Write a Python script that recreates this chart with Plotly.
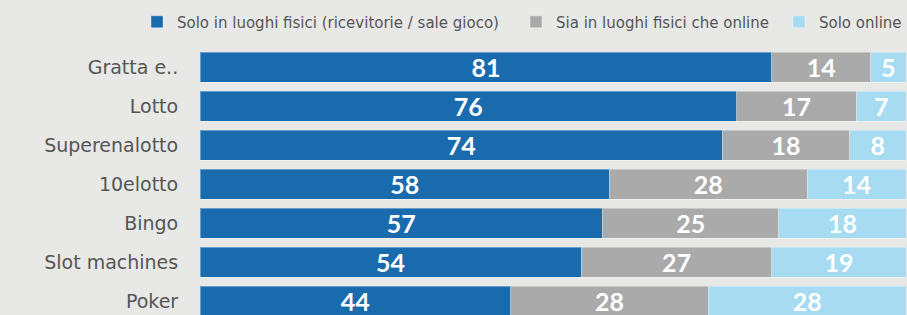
import plotly.graph_objects as go

categories = ["Gratta e..", "Lotto", "Superenalotto", "10elotto", "Bingo", "Slot machines", "Poker"]
solo_fisici = [81, 76, 74, 58, 57, 54, 44]
entrambi = [14, 17, 18, 28, 25, 27, 28]
solo_online = [5, 7, 8, 14, 18, 19, 28]
series_names = ["Solo in luoghi fisici (ricevitorie / sale gioco)",
                "Sia in luoghi fisici che online",
                "Solo online"]
colors = ["#1A6BAE", "#AAAAAA", "#A6DBF2"]
legend_ids = ["legend", "legend2", "legend3"]
legend_text_x = [177, 556, 819]  # pixel where each legend label starts

fig = go.Figure()
for name, vals, col, lg in zip(series_names, [solo_fisici, entrambi, solo_online], colors, legend_ids):
    fig.add_trace(go.Bar(
        name=name, y=categories, x=vals, orientation="h", legend=lg,
        marker=dict(color=col, line=dict(color="rgba(255,255,255,0.35)", width=1)),
        text=[str(v) for v in vals], textposition="inside", textangle=0,
        insidetextanchor="middle", constraintext="none",
        textfont=dict(family="Lato", size=25, color="white", weight="bold"),
        width=0.77, cliponaxis=True,
    ))

W, H = 907, 315
legend_style = dict(orientation="h", xref="container", yref="container",
                    xanchor="left", yanchor="middle", y=1 - 22 / H,
                    font=dict(family="DejaVu Sans", size=15, color="#555555"),
                    bgcolor="rgba(0,0,0,0)", borderwidth=0)
layout_legends = {}
for lg, tx in zip(legend_ids, legend_text_x):
    layout_legends[lg] = dict(legend_style, x=(tx - 40) / W)

fig.update_layout(
    barmode="stack",
    width=W, height=H,
    margin=dict(l=200, r=1, t=47.5, b=0, autoexpand=False),
    paper_bgcolor="#E8E9E7", plot_bgcolor="#E8E9E7",
    font=dict(family="DejaVu Sans", color="#555555"),
    xaxis=dict(range=[0, 100], visible=False, fixedrange=True),
    yaxis=dict(range=[6.36, -0.5], showgrid=False, zeroline=False, showline=False,
               ticks="outside", ticklen=0, ticklabelstandoff=17, fixedrange=True,
               tickfont=dict(family="DejaVu Sans", size=19, color="#555555")),
    showlegend=True,
    **layout_legends,
)
fig.write_html("out.html", config={"displayModeBar": False},
               post_script="document.body.style.margin='0';document.body.style.overflow='hidden';")
